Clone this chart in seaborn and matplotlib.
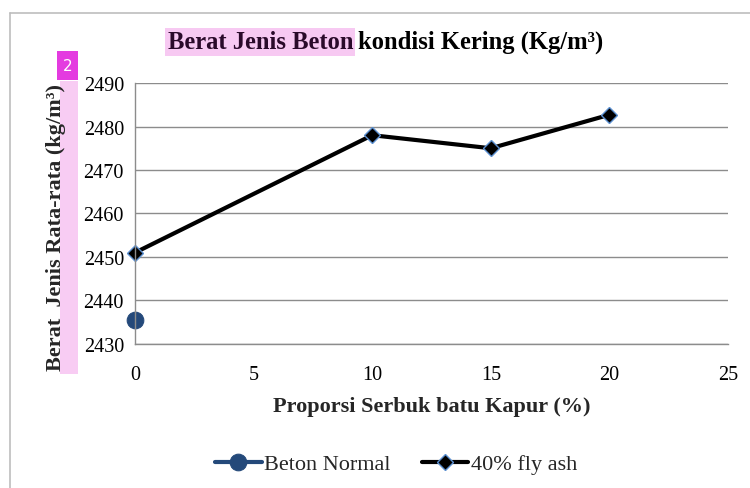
import pandas as pd
import seaborn as sns
import matplotlib.pyplot as plt
from matplotlib.patches import Rectangle

# Data
normal_x = [0]
normal_y = [2435.5]
flyash_x = [0, 10, 15, 20]
flyash_y = [2451.0, 2478.0, 2475.0, 2482.7]
x_ticks = [0, 5, 10, 15, 20, 25]
y_ticks = [2430, 2440, 2450, 2460, 2470, 2480, 2490]

df_normal = pd.DataFrame({'x': normal_x, 'y': normal_y})
df_flyash = pd.DataFrame({'x': flyash_x, 'y': flyash_y})

sns.set_style("white")
plt.rcParams['font.family'] = ['Liberation Serif', 'DejaVu Serif']

fig = plt.figure(figsize=(7.5, 4.89), dpi=100)
ax = fig.add_axes([0.18, 0.2945, 0.7907, 0.5337])

# Outer chart frame (only left and top visible)
fig.add_artist(plt.Line2D([0.013, 0.013], [0.0, 0.971], color='#bdbdbd', lw=1.2, transform=fig.transFigure))
fig.add_artist(plt.Line2D([0.013, 1.0], [0.971, 0.971], color='#bdbdbd', lw=1.2, transform=fig.transFigure))

sns.lineplot(data=df_normal, x='x', y='y', ax=ax, color='#24497a', lw=3,
             marker='o', markersize=12, markeredgecolor='#24497a', label='Beton Normal')
sns.lineplot(data=df_flyash, x='x', y='y', ax=ax, color='black', lw=3,
             marker='D', markersize=8, markerfacecolor='black',
             markeredgecolor='#5b8fd0', markeredgewidth=1.0, label='40% fly ash')

ax.set_xlim(0, 25)
ax.set_ylim(2430, 2490)
ax.set_xticks(x_ticks)
ax.set_yticks(y_ticks)
ax.tick_params(axis='both', labelsize=14.5, labelcolor='black', color='#888888',
               length=5, width=1, direction='out')
ax.tick_params(axis='x', pad=10)
ax.tick_params(axis='y', pad=3)
ax.yaxis.grid(True, color='#8c8c8c', lw=1)
for side in ['top', 'right']:
    ax.spines[side].set_visible(False)
for side in ['left', 'bottom']:
    ax.spines[side].set_color('#8c8c8c')
    ax.spines[side].set_linewidth(1)
for line in ax.lines:
    line.set_clip_on(False)

ax.set_xlabel('Proporsi Serbuk batu Kapur (%)', fontsize=16, fontweight='bold', labelpad=9)
ax.set_ylabel('Berat  Jenis Rata-rata (kg/m³)', fontsize=16, fontweight='bold')
ax.yaxis.set_label_coords(-0.1156, 0.45)

# Title with highlighted first part
fig.text(0.4707, 0.913, 'Berat Jenis Beton', ha='right', va='center', fontsize=17.7,
         fontweight='bold', color='#2a0a2a',
         bbox=dict(boxstyle='square,pad=0.1', facecolor='#f7c9f2', edgecolor='none'))
fig.text(0.4773, 0.913, 'kondisi Kering (Kg/m³)', ha='left', va='center', fontsize=17.7,
         fontweight='bold', color='black')

# Highlight strip behind y label, and badge
fig.add_artist(Rectangle((0.080, 0.233), 0.024, 0.60, transform=fig.transFigure,
                         facecolor='#f8ccf3', edgecolor='none', zorder=-1))
fig.add_artist(Rectangle((0.076, 0.835), 0.028, 0.058, transform=fig.transFigure,
                         facecolor='#e43be0', edgecolor='none', zorder=3))
fig.text(0.090, 0.864, '2', ha='center', va='center', fontsize=11, color='white',
         family=['DejaVu Sans'], zorder=4)

ax.legend(loc='center', bbox_to_anchor=(0.44, -0.46), ncol=2, frameon=False,
          fontsize=16, handlelength=2.1, handletextpad=0.1, columnspacing=1.4)

plt.savefig('out.png', dpi=100)
